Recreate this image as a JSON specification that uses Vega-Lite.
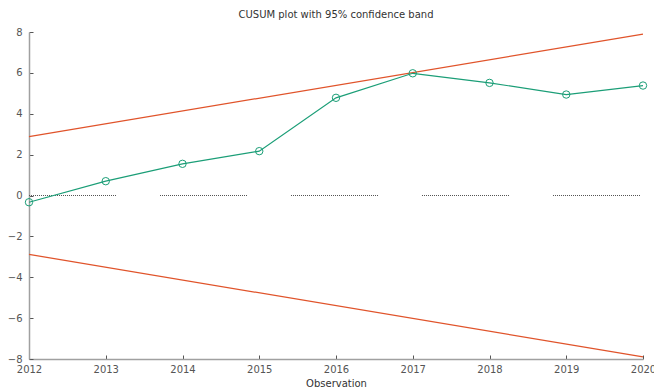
{
  "$schema": "https://vega.github.io/schema/vega-lite/v6.json",
  "autosize": "none",
  "width": 614,
  "height": 327,
  "padding": {"left": 29, "top": 32, "right": 11, "bottom": 31},
  "background": "white",
  "title": {
    "text": "CUSUM plot with 95% confidence band",
    "font": "DejaVu Sans",
    "fontSize": 10,
    "fontWeight": "normal",
    "color": "#333333",
    "offset": 7,
    "anchor": "middle"
  },
  "datasets": {
    "cusum": [
      {"year": 2012, "value": -0.33},
      {"year": 2013, "value": 0.70},
      {"year": 2014, "value": 1.55},
      {"year": 2015, "value": 2.17},
      {"year": 2016, "value": 4.78},
      {"year": 2017, "value": 5.98},
      {"year": 2018, "value": 5.51},
      {"year": 2019, "value": 4.94},
      {"year": 2020, "value": 5.38}
    ],
    "bands": [
      {"year": 2012, "value": 2.88, "band": "upper"},
      {"year": 2020, "value": 7.9, "band": "upper"},
      {"year": 2012, "value": -2.88, "band": "lower"},
      {"year": 2020, "value": -7.9, "band": "lower"}
    ],
    "zero": [{"year": 2012, "value": 0}, {"year": 2020, "value": 0}]
  },
  "config": {
    "view": {"stroke": null},
    "axis": {
      "labelFont": "DejaVu Sans",
      "labelFontSize": 10,
      "labelColor": "#555555",
      "titleFont": "DejaVu Sans",
      "titleFontSize": 10,
      "titleFontWeight": "normal",
      "titleColor": "#333333",
      "domainColor": "#a0a0a0",
      "domainWidth": 1.5,
      "tickColor": "#555555",
      "tickSize": -4,
      "grid": false
    }
  },
  "layer": [
    {
      "data": {"name": "zero"},
      "mark": {
        "type": "line",
        "color": "#555555",
        "strokeWidth": 1,
        "strokeDash": [1,1,1,1,1,1,1,1,1,1,1,1,1,1,1,1,1,1,1,1,1,1,1,1,1,1,1,1,1,1,1,1,1,1,1,1,1,1,1,1,1,1,1,1,1,1,1,1,1,1,1,1,1,1,1,1,1,1,1,1,1,1,1,1,1,1,1,1,1,1,1,1,1,1,1,1,1,1,1,1,1,1,1,1,1,1,1,44]
      },
      "encoding": {
        "x": {
          "field": "year",
          "type": "quantitative",
          "scale": {"domain": [2012, 2020], "nice": false, "zero": false},
          "axis": {
            "title": "Observation",
            "format": "d",
            "values": [2012, 2013, 2014, 2015, 2016, 2017, 2018, 2019, 2020],
            "labelPadding": 9,
            "titlePadding": 4,
            "labelFlush": false
          }
        },
        "y": {
          "field": "value",
          "type": "quantitative",
          "scale": {"domain": [-8, 8], "nice": false},
          "axis": {
            "title": null,
            "values": [-8, -6, -4, -2, 0, 2, 4, 6, 8],
            "labelPadding": 11
          }
        }
      }
    },
    {
      "data": {"name": "bands"},
      "mark": {"type": "line", "color": "#E0532A", "strokeWidth": 1.2},
      "encoding": {
        "x": {"field": "year", "type": "quantitative"},
        "y": {"field": "value", "type": "quantitative"},
        "detail": {"field": "band"}
      }
    },
    {
      "data": {"name": "cusum"},
      "mark": {
        "type": "line",
        "color": "#1B9E77",
        "strokeWidth": 1.2,
        "point": {"filled": false, "shape": "circle", "size": 55, "color": "#1B9E77", "strokeWidth": 1}
      },
      "encoding": {
        "x": {"field": "year", "type": "quantitative"},
        "y": {"field": "value", "type": "quantitative"}
      }
    }
  ]
}
